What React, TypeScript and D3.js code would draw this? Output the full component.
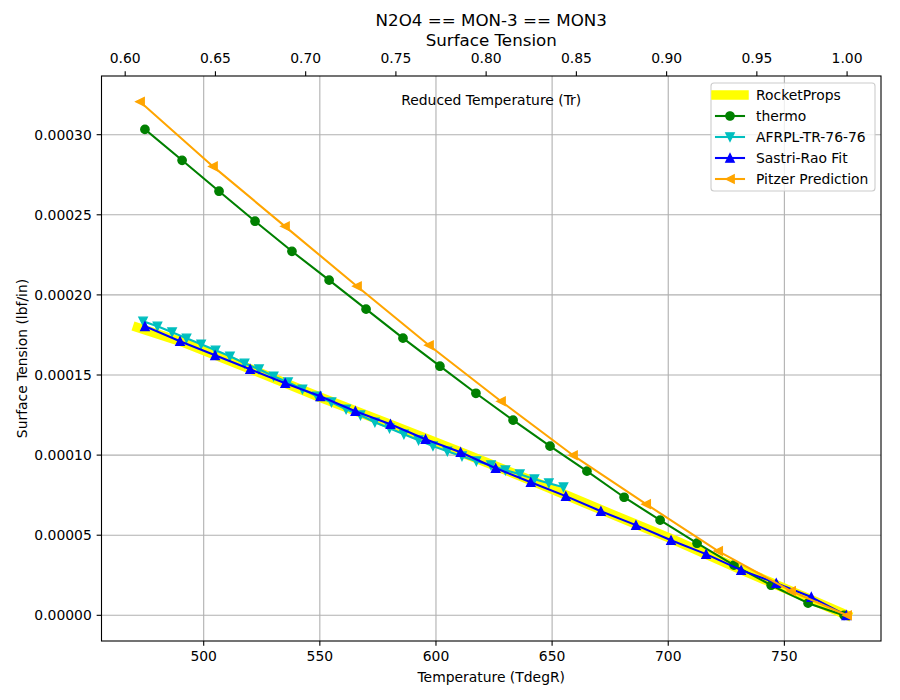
import * as d3 from 'd3';
import * as React from 'react';

// critical temperature (degR) used for the reduced-temperature axis
const TC = 777.0;

const rocketT = [471.5, 489.8, 520.4, 550.1, 580.7, 610.8, 641.8, 671.5, 701.7, 731.8, 762.0, 777.0];
const rocketSigma = [1.797e-4, 1.711e-4, 1.536e-4, 1.361e-4, 1.19e-4, 1.018e-4, 0.837e-4, 0.656e-4, 0.475e-4, 0.282e-4, 0.095e-4, 0];

const thermoT = [474.7, 490.7, 506.6, 522.1, 538.0, 554.0, 569.9, 585.8, 601.7, 617.2, 633.2, 649.1, 665.0, 681.0, 696.5, 712.4, 728.3, 744.3, 760.2, 775.7];
const thermoSigma = [3.033e-4, 2.84e-4, 2.647e-4, 2.46e-4, 2.272e-4, 2.092e-4, 1.911e-4, 1.73e-4, 1.555e-4, 1.386e-4, 1.218e-4, 1.056e-4, 0.9e-4, 0.737e-4, 0.594e-4, 0.45e-4, 0.313e-4, 0.188e-4, 0.076e-4, 0];

const afrplT = [473.9, 480.1, 486.4, 492.6, 498.9, 505.1, 511.3, 517.6, 523.8, 530.1, 536.3, 542.5, 548.8, 555.0, 561.3, 567.5, 573.7, 580.0, 586.2, 592.5, 598.7, 604.9, 611.2, 617.4, 623.7, 629.9, 636.1, 642.4, 648.6, 654.9];
const afrplSigma = [1.835e-4, 1.804e-4, 1.767e-4, 1.729e-4, 1.692e-4, 1.654e-4, 1.617e-4, 1.573e-4, 1.536e-4, 1.492e-4, 1.455e-4, 1.411e-4, 1.367e-4, 1.33e-4, 1.286e-4, 1.249e-4, 1.205e-4, 1.168e-4, 1.13e-4, 1.093e-4, 1.056e-4, 1.024e-4, 0.993e-4, 0.962e-4, 0.937e-4, 0.906e-4, 0.881e-4, 0.85e-4, 0.825e-4, 0.8e-4];

const sastriT = [474.7, 489.8, 504.9, 520.0, 535.1, 550.2, 565.3, 580.4, 595.5, 610.6, 625.7, 640.8, 655.9, 671.0, 686.1, 701.2, 716.3, 731.4, 746.5, 761.6, 776.7];
const sastriSigma = [1.804e-4, 1.711e-4, 1.623e-4, 1.536e-4, 1.449e-4, 1.367e-4, 1.274e-4, 1.193e-4, 1.099e-4, 1.018e-4, 0.918e-4, 0.831e-4, 0.744e-4, 0.65e-4, 0.563e-4, 0.469e-4, 0.382e-4, 0.282e-4, 0.201e-4, 0.114e-4, 0];

const pitzerT = [472.6, 504.0, 535.0, 566.0, 597.0, 628.0, 659.0, 690.5, 721.5, 752.9, 777.0];
const pitzerSigma = [3.206e-4, 2.802e-4, 2.428e-4, 2.054e-4, 1.686e-4, 1.336e-4, 0.999e-4, 0.694e-4, 0.401e-4, 0.151e-4, 0];

const xTicks = [500, 550, 600, 650, 700, 750];
const yTicks = [0, 0.00005, 0.0001, 0.00015, 0.0002, 0.00025, 0.0003];
const trTicks = [0.6, 0.65, 0.7, 0.75, 0.8, 0.85, 0.9, 0.95, 1.0];

type Marker = 'none' | 'o' | '^' | 'v' | '<';

interface ISeries {
  name: string;
  t: number[];
  s: number[];
  color: string;
  width: number;
  marker: Marker;
}

const series: ISeries[] = [
  { name: 'RocketProps', t: rocketT, s: rocketSigma, color: '#ffff00', width: 9.5, marker: 'none' },
  { name: 'thermo', t: thermoT, s: thermoSigma, color: '#008000', width: 2.08, marker: 'o' },
  { name: 'AFRPL-TR-76-76', t: afrplT, s: afrplSigma, color: '#00bfbf', width: 2.08, marker: 'v' },
  { name: 'Sastri-Rao Fit', t: sastriT, s: sastriSigma, color: '#0000ff', width: 2.08, marker: '^' },
  { name: 'Pitzer Prediction', t: pitzerT, s: pitzerSigma, color: '#ffa500', width: 2.08, marker: '<' },
];

const W = 900;
const H = 700;
const left = 101.5;
const right = 881;
const top = 76;
const bottom = 641;
const FONT = 'DejaVu Sans, sans-serif';
const FS = 13.9;

const MS = 4.17; // half marker size, px

function markerShape(kind: Marker, color: string, key?: string | number) {
  const edge = 1.39;
  if (kind === 'o') {
    return <circle key={key} r={MS} fill={color} stroke={color} strokeWidth={edge} />;
  }
  let pts: number[][] = [];
  if (kind === '^') pts = [[0, -MS], [-MS, MS], [MS, MS]];
  if (kind === 'v') pts = [[0, MS], [-MS, -MS], [MS, -MS]];
  if (kind === '<') pts = [[-MS, 0], [MS, -MS], [MS, MS]];
  if (!pts.length) return null;
  return (
    <polygon
      key={key}
      points={pts.map((p) => p.join(',')).join(' ')}
      fill={color}
      stroke={color}
      strokeWidth={edge}
      strokeLinejoin="miter"
    />
  );
}

const App = () => {
  const x = d3.scaleLinear().domain([456.0, 791.6]).range([left, right]);
  const yMax = d3.max(series, (d) => d3.max(d.s)) as number;
  const yMin = 0;
  const pad = (yMax - yMin) * 0.05;
  const y = d3.scaleLinear().domain([yMin - pad, yMax + pad]).range([bottom, top]);
  const xTr = d3.scaleLinear().domain([456.0 / TC, 791.6 / TC]).range([left, right]);

  const pathFor = (sr: ISeries) =>
    d3
      .line<[number, number]>()
      .x((d) => x(d[0]))
      .y((d) => y(d[1]))(sr.t.map((t, i) => [t, sr.s[i]] as [number, number])) || '';

  const tickLen = 4.86;
  const pad2 = 4.86;

  // legend geometry
  const lgX = 711;
  const lgY = 83;
  const lgW = 164;
  const lgH = 108;
  const rowY = (i: number) => 95 + i * 21;

  return (
    <svg
      width={W}
      height={H}
      style={{ position: 'absolute', left: 0, top: 0, background: '#fff' }}
      fontFamily={FONT}
    >
      <rect x={0} y={0} width={W} height={H} fill="#fff" />

      {/* grid */}
      <g stroke="#b0b0b0" strokeWidth={1.1}>
        {xTicks.map((t) => (
          <line key={'gx' + t} x1={x(t)} x2={x(t)} y1={top} y2={bottom} />
        ))}
        {yTicks.map((v) => (
          <line key={'gy' + v} x1={left} x2={right} y1={y(v)} y2={y(v)} />
        ))}
      </g>

      {/* data */}
      <defs>
        <clipPath id="plotArea">
          <rect x={left} y={top} width={right - left} height={bottom - top} />
        </clipPath>
      </defs>
      <g clipPath="url(#plotArea)">
        {series.map((sr) => (
          <g key={sr.name}>
            <path
              d={pathFor(sr)}
              fill="none"
              stroke={sr.color}
              strokeWidth={sr.width}
              strokeLinecap="square"
              strokeLinejoin="round"
            />
            {sr.marker !== 'none' &&
              sr.t.map((t, i) => (
                <g key={i} transform={`translate(${x(t)},${y(sr.s[i])})`}>
                  {markerShape(sr.marker, sr.color)}
                </g>
              ))}
          </g>
        ))}
      </g>

      {/* spines */}
      <rect x={left} y={top} width={right - left} height={bottom - top} fill="none" stroke="#000" strokeWidth={1.1} />

      {/* bottom axis */}
      <g fontSize={FS} textAnchor="middle" fill="#000">
        {xTicks.map((t) => (
          <g key={'bx' + t}>
            <line x1={x(t)} x2={x(t)} y1={bottom} y2={bottom + tickLen} stroke="#000" strokeWidth={1.1} />
            <text x={x(t)} y={bottom + tickLen + pad2 + FS * 0.76}>
              {t}
            </text>
          </g>
        ))}
      </g>

      {/* left axis */}
      <g fontSize={FS} textAnchor="end" fill="#000">
        {yTicks.map((v) => (
          <g key={'ly' + v}>
            <line x1={left - tickLen} x2={left} y1={y(v)} y2={y(v)} stroke="#000" strokeWidth={1.1} />
            <text x={left - tickLen - pad2} y={y(v)} dy="0.36em">
              {v.toFixed(5)}
            </text>
          </g>
        ))}
      </g>

      {/* top axis: reduced temperature */}
      <g fontSize={FS} textAnchor="middle" fill="#000">
        {trTicks.map((r) => (
          <g key={'tr' + r}>
            <line x1={xTr(r)} x2={xTr(r)} y1={top - tickLen} y2={top} stroke="#000" strokeWidth={1.1} />
            <text x={xTr(r)} y={top - tickLen - pad2 - 3.2}>
              {r.toFixed(2)}
            </text>
          </g>
        ))}
      </g>

      {/* labels */}
      <text x={(left + right) / 2} y={105} fontSize={FS} textAnchor="middle" fill="#000">
        Reduced Temperature (Tr)
      </text>
      <text x={(left + right) / 2} y={682} fontSize={FS} textAnchor="middle" fill="#000">
        Temperature (TdegR)
      </text>
      <text
        transform={`translate(27,${(top + bottom) / 2}) rotate(-90)`}
        fontSize={FS}
        textAnchor="middle"
        fill="#000"
      >
        Surface Tension (lbf/in)
      </text>
      <text x={(left + right) / 2} y={26} fontSize={16.7} textAnchor="middle" fill="#000">
        N2O4 == MON-3 == MON3
      </text>
      <text x={(left + right) / 2} y={45.5} fontSize={16.7} textAnchor="middle" fill="#000">
        Surface Tension
      </text>

      {/* legend */}
      <g>
        <rect
          x={lgX}
          y={lgY}
          width={lgW}
          height={lgH}
          rx={3}
          fill="#fff"
          fillOpacity={0.8}
          stroke="#cccccc"
          strokeWidth={1.1}
        />
        {series.map((sr, i) => (
          <g key={'lg' + sr.name}>
            <line
              x1={716}
              x2={744}
              y1={rowY(i)}
              y2={rowY(i)}
              stroke={sr.color}
              strokeWidth={sr.width}
              strokeLinecap="square"
            />
            <g transform={`translate(730,${rowY(i)})`}>{markerShape(sr.marker, sr.color)}</g>
            <text x={756} y={rowY(i)} dy="0.36em" fontSize={FS} fill="#000">
              {sr.name}
            </text>
          </g>
        ))}
      </g>
    </svg>
  );
};

export default App;
